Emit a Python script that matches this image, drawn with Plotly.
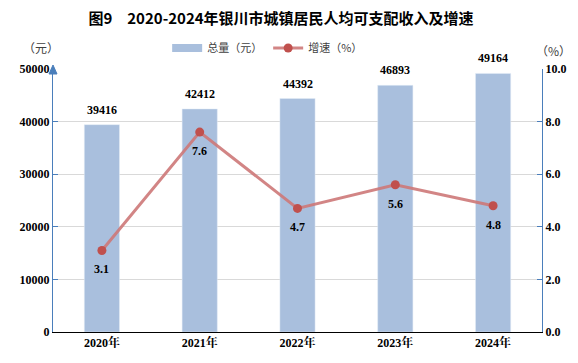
import plotly.graph_objects as go

years = ["2020年", "2021年", "2022年", "2023年", "2024年"]
income = [39416, 42412, 44392, 46893, 49164]
growth = [3.1, 7.6, 4.7, 5.6, 4.8]
left_ticks = [0, 10000, 20000, 30000, 40000, 50000]
right_ticks = [0, 2, 4, 6, 8, 10]
right_tick_text = ["0.0", "2.0", "4.0", "6.0", "8.0", "10.0"]

NUMF = "Liberation Serif, Noto Serif CJK SC, Noto Sans CJK SC"
CJK = "Noto Sans CJK SC"
AXC = "#4A7EBB"
BARC = "#A9BFDD"

fig = go.Figure()
fig.add_trace(go.Bar(x=years, y=income, name="总量（元）", marker_color=BARC,
                     yaxis="y", width=0.36, showlegend=False))
# legend swatch for bars (wide rectangle like the reference)
fig.add_trace(go.Scatter(x=[None], y=[None], name="总量（元）", mode="lines",
                         line=dict(color=BARC, width=8), yaxis="y"))
fig.add_trace(go.Scatter(x=years, y=growth, name="增速（%）", yaxis="y2",
                         mode="lines+markers",
                         line=dict(color="rgba(205,120,120,0.9)", width=3),
                         marker=dict(color="#C0504D", size=9)))

ann = []
for x, v in zip(years, income):
    ann.append(dict(x=x, y=v, xref="x", yref="y", text=f"<b>{v}</b>", showarrow=False,
                    yshift=15, font=dict(family=NUMF, size=12, color="black")))
for x, v in zip(years, growth):
    ann.append(dict(x=x, y=v, xref="x", yref="y2", text=f"<b>{v}</b>", showarrow=False,
                    yshift=-19, font=dict(family=NUMF, size=12, color="black")))
ann.append(dict(x=-0.025, y=1.08, xref="paper", yref="paper", text="（元）", showarrow=False,
                xanchor="center", yanchor="middle",
                font=dict(family=CJK, size=12, color="#404040")))
ann.append(dict(x=1.024, y=1.072, xref="paper", yref="paper", text="（%）", showarrow=False,
                xanchor="center", yanchor="middle",
                font=dict(family=CJK, size=12, color="#404040")))

# arrow head at the top of the left axis
arrow = dict(type="path", xref="paper", yref="paper", xsizemode="pixel", ysizemode="pixel",
             xanchor=0, yanchor=1, path="M -4,-5 L 4,-5 L 0,4 Z",
             fillcolor=AXC, line=dict(color=AXC, width=1))

fig.update_layout(
    width=570, height=355,
    margin=dict(l=35, r=35, t=61, b=31),
    plot_bgcolor="white", paper_bgcolor="white",
    title=dict(text="<b>图9　2020-2024年银川市城镇居民人均可支配收入及增速</b>",
               x=0.479, xanchor="center", y=0.969, yanchor="middle",
               font=dict(family=CJK, size=15, color="black")),
    legend=dict(orientation="h", x=0.44, xanchor="center", y=1.08, yanchor="middle",
                font=dict(family=CJK, size=11, color="#404040"),
                itemwidth=30, entrywidth=56,
                tracegroupgap=0, bgcolor="rgba(0,0,0,0)"),
    xaxis=dict(showline=True, linecolor="black", linewidth=1, ticks="",
               tickvals=years, ticktext=[f"<b>{y}</b>" for y in years],
               tickfont=dict(family=NUMF, size=12, color="black")),
    yaxis=dict(range=[0, 50000], tickvals=left_ticks,
               ticktext=[f"<b>{t}</b>" for t in left_ticks],
               showgrid=True, gridcolor="#D9D9D9",
               showline=True, linecolor=AXC, linewidth=1, ticks="inside", ticklen=5,
               tickcolor=AXC, tickfont=dict(family=NUMF, size=12, color="black"),
               zeroline=False),
    yaxis2=dict(range=[0, 10], tickvals=right_ticks,
                ticktext=[f"<b>{t}</b>" for t in right_tick_text],
                overlaying="y", side="right", showgrid=False, showline=True,
                linecolor=AXC, linewidth=1, ticks="inside", ticklen=5, tickcolor=AXC,
                tickfont=dict(family=NUMF, size=12, color="black"), zeroline=False),
    annotations=ann,
    shapes=[arrow],
    showlegend=True,
)
fig.write_html("out.html")
